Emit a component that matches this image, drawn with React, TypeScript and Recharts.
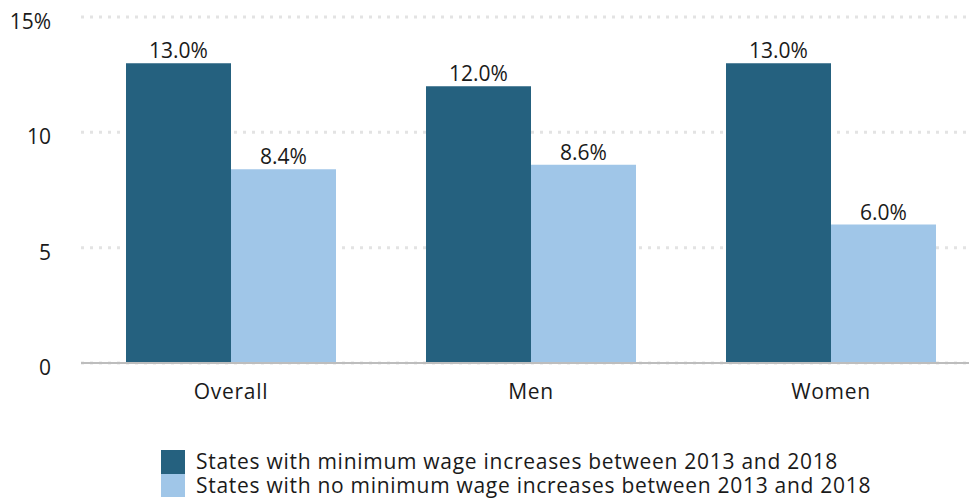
import React from 'react';
import { BarChart, Bar, XAxis, YAxis, CartesianGrid, LabelList, Legend } from 'recharts';

const categories = ['Overall', 'Men', 'Women'];
const withIncrease = [13.0, 12.0, 13.0];
const noIncrease = [8.4, 8.6, 6.0];
const yTicks = [0, 5, 10, 15];
const seriesNames = [
  'States with minimum wage increases between 2013 and 2018',
  'States with no minimum wage increases between 2013 and 2018',
];
const colors = ['#25617f', '#a0c6e8'];

const data = categories.map((c, i) => ({ name: c, a: withIncrease[i], b: noIncrease[i] }));

const FONT = '"Open Sans", Lato, sans-serif';

const YTick = (props: any) => {
  const { x, y, payload } = props;
  const v = payload.value;
  return (
    <text x={x - 22} y={y + 12} textAnchor="end" fontSize={21} fill="#1a1a1a" fontFamily={FONT}>
      {v === 15 ? '15%' : String(v)}
    </text>
  );
};

const XTick = (props: any) => {
  const { x, y, payload } = props;
  return (
    <text x={x} y={y + 28} textAnchor="middle" fontSize={21} fill="#1a1a1a" fontFamily={FONT} letterSpacing={0.7}>
      {payload.value}
    </text>
  );
};

const LegendContent = () => (
  <div style={{ fontFamily: FONT, fontSize: 21, color: '#1a1a1a', letterSpacing: 0.72 }}>
    {seriesNames.map((n, i) => (
      <div key={n} style={{ display: 'flex', alignItems: 'center', height: 23.5 }}>
        <div style={{ width: 24, height: 23.5, background: colors[i], marginRight: 11, flexShrink: 0 }} />
        <span style={{ lineHeight: '23.5px', whiteSpace: 'nowrap' }}>{n}</span>
      </div>
    ))}
  </div>
);

export default function App() {
  return (
    <div style={{ position: 'absolute', left: 0, top: 0, width: 969, height: 500, overflow: 'hidden', background: '#fff' }}>
      <BarChart
        width={981}
        height={500}
        data={data}
        margin={{ top: 17, right: 0, bottom: 107, left: 0 }}
        barCategoryGap="15%"
        barGap={0}
      >
        <CartesianGrid vertical={false} stroke="#e3e3e3" strokeWidth={3} strokeDasharray="3 6" />
        <XAxis dataKey="name" height={30} tickLine={false} axisLine={{ stroke: '#bdbdbd', strokeWidth: 2 }} tick={<XTick />} interval={0} />
        <YAxis width={81} domain={[0, 15]} ticks={yTicks} axisLine={false} tickLine={false} tick={<YTick />} />
        <Legend
          layout="vertical"
          align="center"
          verticalAlign="middle"
          content={<LegendContent />}
          wrapperStyle={{ position: 'absolute', left: 161, top: 450, width: 790, height: 47 }}
        />
        <Bar dataKey="a" name={seriesNames[0]} fill={colors[0]} isAnimationActive={false}>
          <LabelList dataKey="a" position="top" offset={5} formatter={(v: any) => `${Number(v).toFixed(1)}%`} style={{ fontSize: 21, fill: '#1a1a1a', fontFamily: FONT }} />
        </Bar>
        <Bar dataKey="b" name={seriesNames[1]} fill={colors[1]} isAnimationActive={false}>
          <LabelList dataKey="b" position="top" offset={5} formatter={(v: any) => `${Number(v).toFixed(1)}%`} style={{ fontSize: 21, fill: '#1a1a1a', fontFamily: FONT }} />
        </Bar>
      </BarChart>
    </div>
  );
}
